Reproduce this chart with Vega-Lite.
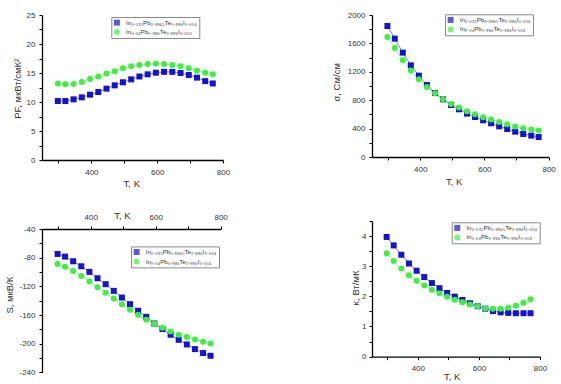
{
  "$schema": "https://vega.github.io/schema/vega-lite/v6.json",
  "background": "white",
  "padding": {"left": 4, "top": 11, "right": 0, "bottom": 0},
  "data": {"values": [
    {"T":298,"s":"A","PF":10.17,"sig":1845,"S":-74.8,"k":3.97},
    {"T":321,"s":"A","PF":10.17,"sig":1667,"S":-78.5,"k":3.69},
    {"T":346,"s":"A","PF":10.46,"sig":1470,"S":-85.0,"k":3.38},
    {"T":371,"s":"A","PF":10.8,"sig":1291,"S":-92.0,"k":3.09},
    {"T":396,"s":"A","PF":11.26,"sig":1146,"S":-99.8,"k":2.85},
    {"T":421,"s":"A","PF":11.72,"sig":1014,"S":-108.7,"k":2.64},
    {"T":446,"s":"A","PF":12.3,"sig":901,"S":-117.0,"k":2.44},
    {"T":471,"s":"A","PF":12.87,"sig":812,"S":-126.3,"k":2.27},
    {"T":496,"s":"A","PF":13.4,"sig":732,"S":-135.6,"k":2.11},
    {"T":521,"s":"A","PF":13.9,"sig":672,"S":-144.8,"k":1.99},
    {"T":546,"s":"A","PF":14.4,"sig":611,"S":-154.0,"k":1.88},
    {"T":571,"s":"A","PF":14.77,"sig":563,"S":-162.5,"k":1.77},
    {"T":596,"s":"A","PF":15.05,"sig":517,"S":-171.8,"k":1.67},
    {"T":621,"s":"A","PF":15.2,"sig":475,"S":-179.6,"k":1.59},
    {"T":646,"s":"A","PF":15.2,"sig":432,"S":-187.5,"k":1.51},
    {"T":671,"s":"A","PF":15.0,"sig":394,"S":-194.5,"k":1.47},
    {"T":696,"s":"A","PF":14.66,"sig":357,"S":-201.0,"k":1.45},
    {"T":721,"s":"A","PF":14.2,"sig":324,"S":-207.5,"k":1.44},
    {"T":746,"s":"A","PF":13.6,"sig":301,"S":-213.0,"k":1.44},
    {"T":769,"s":"A","PF":13.2,"sig":282,"S":-216.8,"k":1.44},
    {"T":298,"s":"B","PF":13.2,"sig":1690,"S":-88.7,"k":3.43},
    {"T":321,"s":"B","PF":13.05,"sig":1535,"S":-92.5,"k":3.17},
    {"T":346,"s":"B","PF":13.1,"sig":1362,"S":-98.5,"k":2.92},
    {"T":371,"s":"B","PF":13.45,"sig":1217,"S":-105.4,"k":2.70},
    {"T":396,"s":"B","PF":13.97,"sig":1094,"S":-113.3,"k":2.52},
    {"T":421,"s":"B","PF":14.4,"sig":986,"S":-121.2,"k":2.36},
    {"T":446,"s":"B","PF":14.9,"sig":897,"S":-129.0,"k":2.22},
    {"T":471,"s":"B","PF":15.3,"sig":812,"S":-137.0,"k":2.10},
    {"T":496,"s":"B","PF":15.8,"sig":746,"S":-144.8,"k":1.99},
    {"T":521,"s":"B","PF":16.15,"sig":696,"S":-152.7,"k":1.89},
    {"T":546,"s":"B","PF":16.4,"sig":644,"S":-159.7,"k":1.80},
    {"T":571,"s":"B","PF":16.55,"sig":601,"S":-166.7,"k":1.73},
    {"T":596,"s":"B","PF":16.6,"sig":559,"S":-172.2,"k":1.67},
    {"T":621,"s":"B","PF":16.55,"sig":527,"S":-177.8,"k":1.60},
    {"T":646,"s":"B","PF":16.4,"sig":493,"S":-183.0,"k":1.59},
    {"T":671,"s":"B","PF":16.15,"sig":460,"S":-187.5,"k":1.59},
    {"T":696,"s":"B","PF":15.8,"sig":428,"S":-190.8,"k":1.62},
    {"T":721,"s":"B","PF":15.4,"sig":404,"S":-194.0,"k":1.69},
    {"T":746,"s":"B","PF":15.05,"sig":386,"S":-197.3,"k":1.79},
    {"T":769,"s":"B","PF":14.77,"sig":372,"S":-199.6,"k":1.90}
  ]},
  "spacing": 101,
  "resolve": {"scale": {"color": "independent", "shape": "independent"}, "legend": {"color": "independent", "shape": "independent"}},
  "hconcat": [
    {
      "spacing": 22,
      "resolve": {"scale": {"color": "independent", "shape": "independent"}, "legend": {"color": "independent", "shape": "independent"}},
      "vconcat": [
        {
          "width": 181, "height": 145,
          "layer": [
            {"mark": {"type": "line", "strokeWidth": 0.8, "opacity": 0.7},
             "encoding": {
               "x": {"field": "T", "type": "quantitative", "scale": {"domain": [250, 800], "nice": false},
                     "axis": {"values": [300,400,500,600,700,800], "labelOverlap": false, "labelExpr": "datum.value % 200 === 0 ? '' + datum.value : ''", "title": "T, K", "titleX": 89.3, "titleY": 26.3, "titleBaseline": "alphabetic", "titleAlign": "center"}},
               "y": {"field": "PF", "type": "quantitative", "scale": {"domain": [0, 25], "nice": false},
                     "axis": {"values": [0,2.5,5,7.5,10,12.5,15,17.5,20,22.5,25], "labelOverlap": false, "labelExpr": "datum.value % 5 === 0 ? '' + datum.value : ''", "title": "PF, мкВт/смК²", "titleX": -25, "titleY": 73.3, "titleBaseline": "middle", "titleAlign": "center", "titleAngle": -90}},
               "color": {"field": "s", "type": "nominal", "scale": {"domain": ["A","B"], "range": ["#1414d0", "#3df03d"]},
                 "legend": {"orient": "none", "legendX": 69.3, "legendY": 2,
                   "labelExpr": "datum.value === 'A' ? 'In₀.₀₃₅Pb₀.₉₉₆₅Te₀.₉₉₆I₀.₀₀₄' : 'In₀.₀₄Pb₀.₉₉₆Te₀.₉₉₆I₀.₀₀₄'"}}
             }},
            {"mark": {"type": "point", "filled": true, "size": 36, "opacity": 1},
             "encoding": {
               "x": {"field": "T", "type": "quantitative",
                     "axis": {"values": [300,400,500,600,700,800], "labelOverlap": false, "labelExpr": "datum.value % 200 === 0 ? '' + datum.value : ''", "title": "T, K", "titleX": 89.3, "titleY": 26.3, "titleBaseline": "alphabetic", "titleAlign": "center"}},
               "y": {"field": "PF", "type": "quantitative",
                     "axis": {"values": [0,2.5,5,7.5,10,12.5,15,17.5,20,22.5,25], "labelOverlap": false, "labelExpr": "datum.value % 5 === 0 ? '' + datum.value : ''", "title": "PF, мкВт/смК²", "titleX": -25, "titleY": 73.3, "titleBaseline": "middle", "titleAlign": "center", "titleAngle": -90}},
               "color": {"field": "s", "type": "nominal",
                 "legend": {"orient": "none", "legendX": 69.3, "legendY": 2,
                   "labelExpr": "datum.value === 'A' ? 'In₀.₀₃₅Pb₀.₉₉₆₅Te₀.₉₉₆I₀.₀₀₄' : 'In₀.₀₄Pb₀.₉₉₆Te₀.₉₉₆I₀.₀₀₄'"}},
               "shape": {"field": "s", "type": "nominal", "scale": {"domain": ["A","B"], "range": ["square", "circle"]},
                 "legend": {"orient": "none", "legendX": 69.3, "legendY": 2,
                   "labelExpr": "datum.value === 'A' ? 'In₀.₀₃₅Pb₀.₉₉₆₅Te₀.₉₉₆I₀.₀₀₄' : 'In₀.₀₄Pb₀.₉₉₆Te₀.₉₉₆I₀.₀₀₄'"}}
             }}
          ]
        },
        {
          "width": 178.6, "height": 143.4,
          "layer": [
            {"mark": {"type": "line", "strokeWidth": 0.8, "opacity": 0.7},
             "encoding": {
               "x": {"field": "T", "type": "quantitative", "scale": {"domain": [250, 800], "nice": false},
                     "axis": {"orient": "top", "values": [300,400,500,600,700,800], "labelOverlap": false, "labelExpr": "datum.value % 200 === 0 ? '' + datum.value : ''", "title": "T, K", "titleX": 80, "titleY": -11, "titleBaseline": "alphabetic", "titleAlign": "center"}},
               "y": {"field": "S", "type": "quantitative", "scale": {"domain": [-240, -40], "nice": false},
                     "axis": {"values": [-240,-220,-200,-180,-160,-140,-120,-100,-80,-60,-40], "labelOverlap": false, "labelExpr": "datum.value % 40 === 0 ? '' + datum.value : ''", "title": "S, мкВ/К", "titleX": -33, "titleY": 65.7, "titleBaseline": "middle", "titleAlign": "center", "titleAngle": -90}},
               "color": {"field": "s", "type": "nominal", "scale": {"domain": ["A","B"], "range": ["#1414d0", "#3df03d"]},
                 "legend": {"orient": "none", "legendX": 89, "legendY": 17.4,
                   "labelExpr": "datum.value === 'A' ? 'In₀.₀₃₅Pb₀.₉₉₆₅Te₀.₉₉₆I₀.₀₀₄' : 'In₀.₀₄Pb₀.₉₉₆Te₀.₉₉₆I₀.₀₀₄'"}}
             }},
            {"mark": {"type": "point", "filled": true, "size": 36, "opacity": 1},
             "encoding": {
               "x": {"field": "T", "type": "quantitative",
                     "axis": {"orient": "top", "values": [300,400,500,600,700,800], "labelOverlap": false, "labelExpr": "datum.value % 200 === 0 ? '' + datum.value : ''", "title": "T, K", "titleX": 80, "titleY": -11, "titleBaseline": "alphabetic", "titleAlign": "center"}},
               "y": {"field": "S", "type": "quantitative",
                     "axis": {"values": [-240,-220,-200,-180,-160,-140,-120,-100,-80,-60,-40], "labelOverlap": false, "labelExpr": "datum.value % 40 === 0 ? '' + datum.value : ''", "title": "S, мкВ/К", "titleX": -33, "titleY": 65.7, "titleBaseline": "middle", "titleAlign": "center", "titleAngle": -90}},
               "color": {"field": "s", "type": "nominal",
                 "legend": {"orient": "none", "legendX": 89, "legendY": 17.4,
                   "labelExpr": "datum.value === 'A' ? 'In₀.₀₃₅Pb₀.₉₉₆₅Te₀.₉₉₆I₀.₀₀₄' : 'In₀.₀₄Pb₀.₉₉₆Te₀.₉₉₆I₀.₀₀₄'"}},
               "shape": {"field": "s", "type": "nominal", "scale": {"domain": ["A","B"], "range": ["square", "circle"]},
                 "legend": {"orient": "none", "legendX": 89, "legendY": 17.4,
                   "labelExpr": "datum.value === 'A' ? 'In₀.₀₃₅Pb₀.₉₉₆₅Te₀.₉₉₆I₀.₀₀₄' : 'In₀.₀₄Pb₀.₉₉₆Te₀.₉₉₆I₀.₀₀₄'"}}
             }}
          ]
        }
      ]
    },
    {
      "spacing": 30,
      "resolve": {"scale": {"color": "independent", "shape": "independent"}, "legend": {"color": "independent", "shape": "independent"}},
      "vconcat": [
        {
          "width": 176.6, "height": 142,
          "layer": [
            {"mark": {"type": "line", "strokeWidth": 0.8, "opacity": 0.7},
             "encoding": {
               "x": {"field": "T", "type": "quantitative", "scale": {"domain": [250, 800], "nice": false},
                     "axis": {"values": [300,400,500,600,700,800], "labelOverlap": false, "labelExpr": "datum.value % 200 === 0 ? '' + datum.value : ''", "title": "T, K", "titleX": 81.6, "titleY": 27.6, "titleBaseline": "alphabetic", "titleAlign": "center"}},
               "y": {"field": "sig", "type": "quantitative", "scale": {"domain": [0, 2000], "nice": false},
                     "axis": {"values": [0,200,400,600,800,1000,1200,1400,1600,1800,2000], "labelOverlap": false, "labelExpr": "datum.value % 400 === 0 ? '' + datum.value : ''", "title": "σ, См/см", "titleX": -35.2, "titleY": 66.8, "titleBaseline": "middle", "titleAlign": "center", "titleAngle": -90}},
               "color": {"field": "s", "type": "nominal", "scale": {"domain": ["A","B"], "range": ["#1414d0", "#3df03d"]},
                 "legend": {"orient": "none", "legendX": 73, "legendY": -0.7,
                   "labelExpr": "datum.value === 'A' ? 'In₀.₀₃₅Pb₀.₉₉₆₅Te₀.₉₉₆I₀.₀₀₄' : 'In₀.₀₄Pb₀.₉₉₆Te₀.₉₉₆I₀.₀₀₄'"}}
             }},
            {"mark": {"type": "point", "filled": true, "size": 36, "opacity": 1},
             "encoding": {
               "x": {"field": "T", "type": "quantitative",
                     "axis": {"values": [300,400,500,600,700,800], "labelOverlap": false, "labelExpr": "datum.value % 200 === 0 ? '' + datum.value : ''", "title": "T, K", "titleX": 81.6, "titleY": 27.6, "titleBaseline": "alphabetic", "titleAlign": "center"}},
               "y": {"field": "sig", "type": "quantitative",
                     "axis": {"values": [0,200,400,600,800,1000,1200,1400,1600,1800,2000], "labelOverlap": false, "labelExpr": "datum.value % 400 === 0 ? '' + datum.value : ''", "title": "σ, См/см", "titleX": -35.2, "titleY": 66.8, "titleBaseline": "middle", "titleAlign": "center", "titleAngle": -90}},
               "color": {"field": "s", "type": "nominal",
                 "legend": {"orient": "none", "legendX": 73, "legendY": -0.7,
                   "labelExpr": "datum.value === 'A' ? 'In₀.₀₃₅Pb₀.₉₉₆₅Te₀.₉₉₆I₀.₀₀₄' : 'In₀.₀₄Pb₀.₉₉₆Te₀.₉₉₆I₀.₀₀₄'"}},
               "shape": {"field": "s", "type": "nominal", "scale": {"domain": ["A","B"], "range": ["square", "circle"]},
                 "legend": {"orient": "none", "legendX": 73, "legendY": -0.7,
                   "labelExpr": "datum.value === 'A' ? 'In₀.₀₃₅Pb₀.₉₉₆₅Te₀.₉₉₆I₀.₀₀₄' : 'In₀.₀₄Pb₀.₉₉₆Te₀.₉₉₆I₀.₀₀₄'"}}
             }}
          ]
        },
        {
          "width": 168, "height": 135.6,
          "layer": [
            {"mark": {"type": "line", "strokeWidth": 0.8, "opacity": 0.7},
             "encoding": {
               "x": {"field": "T", "type": "quantitative", "scale": {"domain": [250, 800], "nice": false},
                     "axis": {"values": [300,400,500,600,700,800], "labelOverlap": false, "labelExpr": "datum.value % 200 === 0 ? '' + datum.value : ''", "title": "T, K", "titleX": 79.7, "titleY": 23.2, "titleBaseline": "alphabetic", "titleAlign": "center"}},
               "y": {"field": "k", "type": "quantitative", "scale": {"domain": [0, 4.5], "nice": false},
                     "axis": {"values": [0,0.5,1,1.5,2,2.5,3,3.5,4,4.5], "labelOverlap": false, "labelPadding": 3, "labelExpr": "datum.value % 1 === 0 ? '' + datum.value : ''", "title": "κ, Вт/мК", "titleX": -17, "titleY": 66.6, "titleBaseline": "middle", "titleAlign": "center", "titleAngle": -90}},
               "color": {"field": "s", "type": "nominal", "scale": {"domain": ["A","B"], "range": ["#1414d0", "#3df03d"]},
                 "legend": {"orient": "none", "legendX": 79.7, "legendY": 1.3,
                   "labelExpr": "datum.value === 'A' ? 'In₀.₀₃₅Pb₀.₉₉₆₅Te₀.₉₉₆I₀.₀₀₄' : 'In₀.₀₄Pb₀.₉₉₆Te₀.₉₉₆I₀.₀₀₄'"}}
             }},
            {"mark": {"type": "point", "filled": true, "size": 36, "opacity": 1},
             "encoding": {
               "x": {"field": "T", "type": "quantitative",
                     "axis": {"values": [300,400,500,600,700,800], "labelOverlap": false, "labelExpr": "datum.value % 200 === 0 ? '' + datum.value : ''", "title": "T, K", "titleX": 79.7, "titleY": 23.2, "titleBaseline": "alphabetic", "titleAlign": "center"}},
               "y": {"field": "k", "type": "quantitative",
                     "axis": {"values": [0,0.5,1,1.5,2,2.5,3,3.5,4,4.5], "labelOverlap": false, "labelPadding": 3, "labelExpr": "datum.value % 1 === 0 ? '' + datum.value : ''", "title": "κ, Вт/мК", "titleX": -17, "titleY": 66.6, "titleBaseline": "middle", "titleAlign": "center", "titleAngle": -90}},
               "color": {"field": "s", "type": "nominal",
                 "legend": {"orient": "none", "legendX": 79.7, "legendY": 1.3,
                   "labelExpr": "datum.value === 'A' ? 'In₀.₀₃₅Pb₀.₉₉₆₅Te₀.₉₉₆I₀.₀₀₄' : 'In₀.₀₄Pb₀.₉₉₆Te₀.₉₉₆I₀.₀₀₄'"}},
               "shape": {"field": "s", "type": "nominal", "scale": {"domain": ["A","B"], "range": ["square", "circle"]},
                 "legend": {"orient": "none", "legendX": 79.7, "legendY": 1.3,
                   "labelExpr": "datum.value === 'A' ? 'In₀.₀₃₅Pb₀.₉₉₆₅Te₀.₉₉₆I₀.₀₀₄' : 'In₀.₀₄Pb₀.₉₉₆Te₀.₉₉₆I₀.₀₀₄'"}}
             }}
          ]
        }
      ]
    }
  ],
  "config": {
    "view": {"stroke": null},
    "axis": {
      "grid": false,
      "domainColor": "#000", "domainWidth": 1.3,
      "tickColor": "#000", "tickWidth": 1, "tickSize": 3,
      "labelFont": "Liberation Sans", "labelFontSize": 8, "labelColor": "#333",
      "labelPadding": 4, "labelFlush": false, "labelOverlap": false,
      "titleFont": "Liberation Sans", "titleFontSize": 9.5, "titleFontWeight": "normal", "titleColor": "#333"
    },
    "axisX": {"labelPadding": 5},
    "legend": {
      "title": null,
      "strokeColor": "#8a8a8a", "fillColor": "#ffffff",
      "padding": 2.5, "rowPadding": 2.5,
      "labelFont": "Liberation Sans", "labelFontSize": 6.2, "labelColor": "#333",
      "symbolSize": 36, "labelOffset": 6, "symbolStrokeWidth": 0
    }
  }
}
